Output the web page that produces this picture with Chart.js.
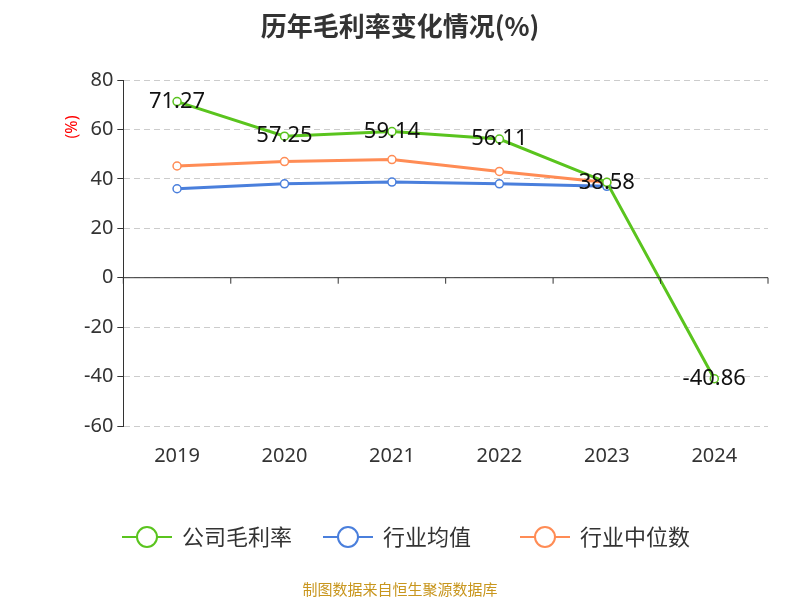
<!DOCTYPE html>
<html>
<head>
<meta charset="utf-8">
<script src="https://cdn.jsdelivr.net/npm/chart.js@4"></script>
<style>
  body { margin: 0; background: #fff; }
  #wrap { position: relative; width: 800px; height: 600px; }
  #title { position: absolute; top: 6px; width: 800px; text-align: center; font: bold 26px "Noto Sans CJK SC", sans-serif; color: #333; }
  #src { position: absolute; top: 578px; width: 800px; text-align: center; font: 15px "Noto Sans CJK SC", sans-serif; color: #c8961e; }
</style>
</head>
<body>
<div id="wrap">
  <div id="title">历年毛利率变化情况(%)</div>
  <canvas id="c" width="800" height="600"></canvas>
  <div id="src">制图数据来自恒生聚源数据库</div>
</div>
<script>
// ==================== DATA ====================
const years = ['2019', '2020', '2021', '2022', '2023', '2024'];
const companyMargin = [71.27, 57.25, 59.14, 56.11, 38.58, -40.86];
const industryAvg = [36.0, 38.0, 38.7, 38.0, 37.0, null];
const industryMedian = [45.2, 47.0, 47.8, 43.0, 38.5, null];

// ==================== PLUGINS ====================
// value labels on the company line
const valueLabels = {
    id: 'valueLabels',
    afterDatasetsDraw(chart) {
        const ctx = chart.ctx;
        const meta = chart.getDatasetMeta(0);
        ctx.save();
        ctx.font = '22px "Noto Sans", sans-serif';
        ctx.fillStyle = '#111';
        ctx.textAlign = 'center';
        ctx.textBaseline = 'middle';
        meta.data.forEach((pt, i) => {
            ctx.fillText(companyMargin[i].toFixed(2), pt.x, pt.y);
        });
        ctx.restore();
    }
};

// zero line with ticks, y title, legend
const extras = {
    id: 'extras',
    afterDraw(chart) {
        const ctx = chart.ctx;
        const area = chart.chartArea;
        const y0 = chart.scales.y.getPixelForValue(0);
        ctx.save();
        ctx.strokeStyle = '#333';
        ctx.lineWidth = 1;
        ctx.beginPath();
        ctx.moveTo(area.left, y0);
        ctx.lineTo(area.right, y0);
        for (let i = 0; i <= years.length; i++) {
            const px = area.left + (area.right - area.left) * i / years.length;
            ctx.moveTo(px, y0);
            ctx.lineTo(px, y0 + 6);
        }
        ctx.stroke();

        // y title
        ctx.translate(72, 127);
        ctx.rotate(-Math.PI / 2);
        ctx.fillStyle = 'red';
        ctx.font = '16px "Noto Sans", sans-serif';
        ctx.textAlign = 'center';
        ctx.textBaseline = 'middle';
        ctx.fillText('(%)', 0, 0);
        ctx.setTransform(1, 0, 0, 1, 0, 0);

        // legend
        const items = [[122, 0], [323, 1], [520, 2]];
        ctx.font = '22px "Noto Sans CJK SC", sans-serif';
        ctx.textAlign = 'left';
        ctx.textBaseline = 'middle';
        items.forEach(([x, i]) => {
            const d = chart.data.datasets[i];
            ctx.strokeStyle = d.borderColor;
            ctx.lineWidth = 2;
            ctx.beginPath();
            ctx.moveTo(x, 537);
            ctx.lineTo(x + 50, 537);
            ctx.stroke();
            ctx.fillStyle = '#fff';
            ctx.beginPath();
            ctx.arc(x + 25, 537, 10, 0, Math.PI * 2);
            ctx.fill();
            ctx.stroke();
            ctx.fillStyle = '#333';
            ctx.fillText(d.label, x + 60, 537);
        });
        ctx.restore();
    }
};

// ==================== CHART ====================
const mkSet = (label, data, color) => ({
    label, data,
    borderColor: color,
    backgroundColor: '#fff',
    borderWidth: 3,
    pointRadius: 4,
    pointBorderWidth: 1.5,
    pointBackgroundColor: '#fff',
    pointBorderColor: color,
    tension: 0
});

new Chart(document.getElementById('c'), {
    type: 'line',
    data: {
        labels: years,
        datasets: [
            mkSet('公司毛利率', companyMargin, '#5ac41e'),
            mkSet('行业均值', industryAvg, '#4a7fdc'),
            mkSet('行业中位数', industryMedian, '#ff8c55')
        ]
    },
    options: {
        responsive: false,
        animation: false,
        layout: { padding: { top: 80, left: 80, right: 32, bottom: 122 } },
        plugins: {
            legend: { display: false },
            tooltip: { enabled: false }
        },
        scales: {
            x: {
                offset: true,
                grid: { display: false },
                border: { display: false },
                ticks: { font: { size: 20, family: '"Noto Sans", sans-serif' }, color: '#333', padding: 10 }
            },
            y: {
                min: -60, max: 80,
                ticks: { stepSize: 20, font: { size: 20, family: '"Noto Sans", sans-serif' }, color: '#333', padding: 4 },
                border: { color: '#333', width: 1, dash: [6, 4] },
                grid: { color: '#ccc', drawTicks: true, tickColor: '#333', tickLength: 6 }
            }
        }
    },
    plugins: [valueLabels, extras]
});
</script>
</body>
</html>
